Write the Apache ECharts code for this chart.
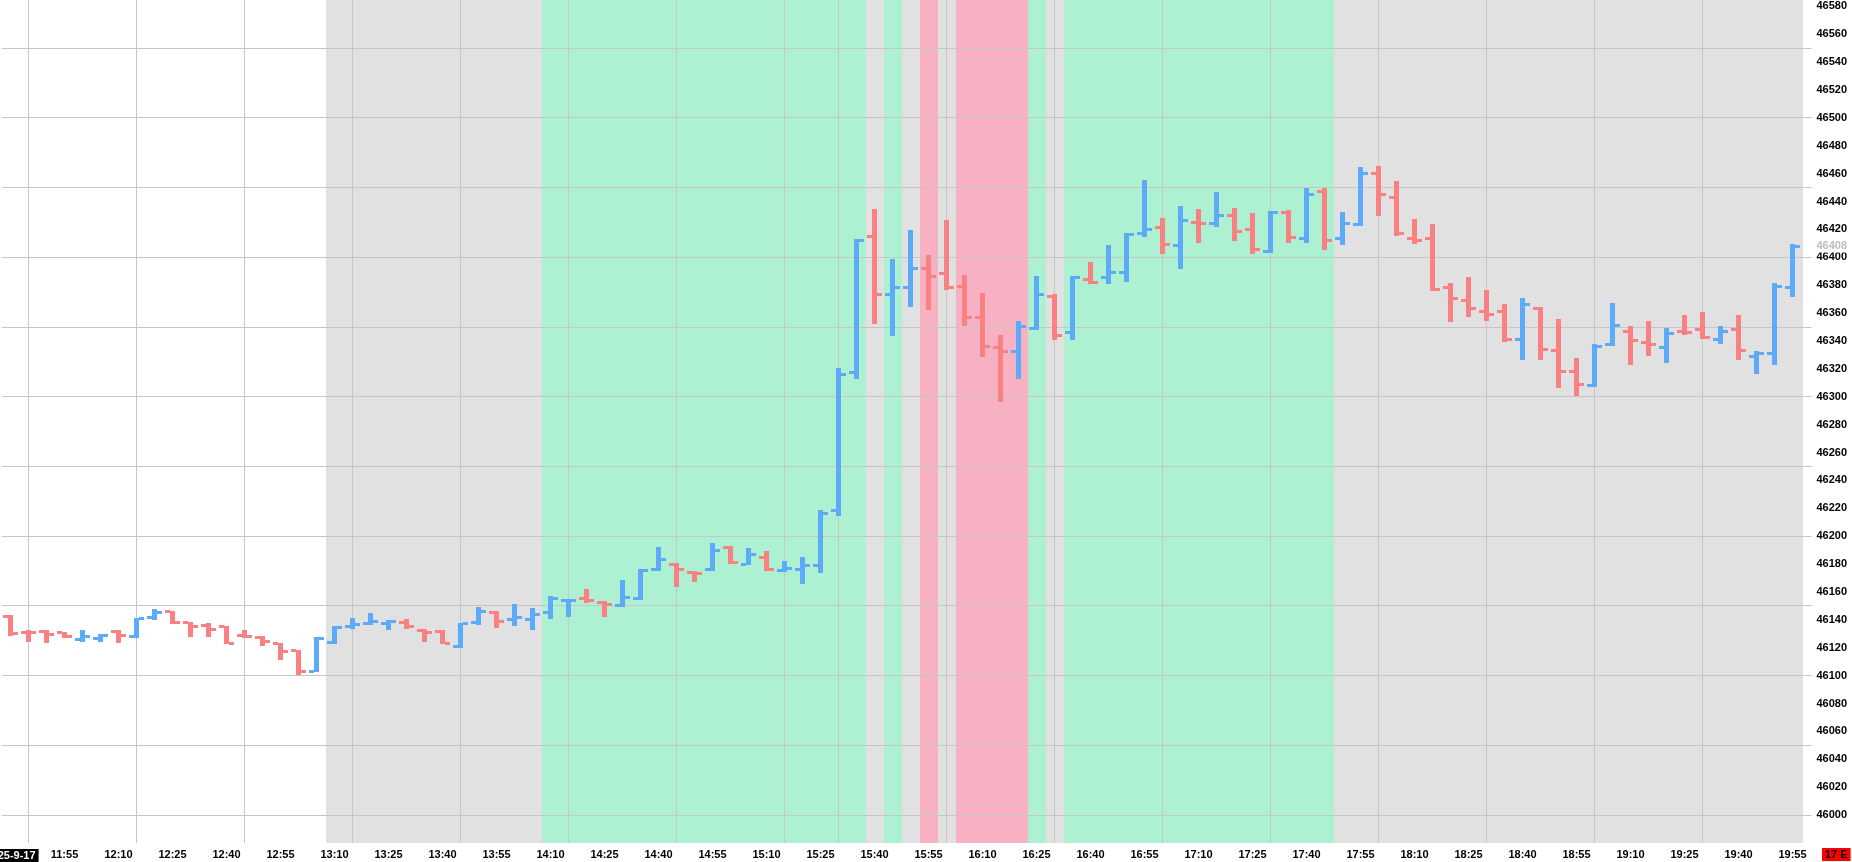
<!DOCTYPE html>
<html>
<head>
<meta charset="utf-8">
<style>
html,body{margin:0;padding:0;background:#ffffff;overflow:hidden;}
#chart{width:1852px;height:862px;}
</style>
<script src="https://cdn.jsdelivr.net/npm/echarts@6/dist/echarts.min.js"></script>
</head>
<body>
<div id="chart"></div>
<script>
// ---------------- data ----------------
const dateLabel = '2025-9-17';
const cornerLabel = '17 E';

const categories = [
  '11:40','11:45','11:50','11:55','12:00','12:05','12:10','12:15','12:20','12:25',
  '12:30','12:35','12:40','12:45','12:50','12:55','13:00','13:05','13:10','13:15',
  '13:20','13:25','13:30','13:35','13:40','13:45','13:50','13:55','14:00','14:05',
  '14:10','14:15','14:20','14:25','14:30','14:35','14:40','14:45','14:50','14:55',
  '15:00','15:05','15:10','15:15','15:20','15:25','15:30','15:35','15:40','15:45',
  '15:50','15:55','16:00','16:05','16:10','16:15','16:20','16:25','16:30','16:35',
  '16:40','16:45','16:50','16:55','17:00','17:05','17:10','17:15','17:20','17:25',
  '17:30','17:35','17:40','17:45','17:50','17:55','18:00','18:05','18:10','18:15',
  '18:20','18:25','18:30','18:35','18:40','18:45','18:50','18:55','19:00','19:05',
  '19:10','19:15','19:20','19:25','19:30','19:35','19:40','19:45','19:50','19:55'
];

const opens = [
  46142.6,46131.2,46131.5,46130.6,46125.8,46127.0,46132.0,46127.8,46141.4,46145.7,
  46137.8,46135.9,46134.9,46129.0,46127.3,46122.7,46117.7,46103.3,46123.7,46135.6,
  46137.1,46137.6,46138.0,46132.5,46132.0,46120.6,46138.0,46145.2,46140.2,46140.2,
  46145.2,46154.0,46155.3,46152.4,46150.2,46155.3,46176.0,46179.7,46174.0,46176.0,
  46191.9,46179.7,46184.7,46175.4,46176.0,46179.2,46218.4,46317.5,46414.6,46373.4,
  46378.5,46392.1,46388.5,46379.2,46356.9,46335.4,46332.5,46349.0,46372.0,46346.1,
  46384.2,46385.6,46389.2,46417.2,46421.5,46408.6,46425.1,46424.4,46430.1,46420.1,
  46404.3,46432.3,46413.6,46447.4,46413.6,46423.7,46460.3,46443.0,46413.6,46413.6,
  46378.5,46369.1,46361.2,46361.2,46341.1,46363.4,46333.2,46318.2,46308.1,46337.5,
  46346.9,46339.0,46335.4,46346.9,46348.3,46341.1,46348.3,46328.9,46331.1,46378.5
];
const highs = [
  46143.8,46133.0,46133.0,46131.6,46133.0,46130.1,46133.0,46141.6,46148.1,46146.7,
  46138.8,46138.0,46135.9,46133.0,46128.5,46123.7,46118.7,46127.8,46135.6,46141.6,
  46145.2,46140.2,46140.9,46133.5,46133.0,46138.0,46149.0,46146.2,46151.2,46148.3,
  46156.9,46155.0,46162.0,46153.3,46168.4,46176.3,46192.1,46180.6,46175.0,46195.0,
  46192.9,46191.4,46189.2,46182.0,46184.9,46218.7,46320.6,46413.2,46434.6,46398.8,
  46419.6,46401.7,46426.8,46387.3,46374.4,46344.2,46354.3,46386.6,46373.7,46386.6,
  46396.6,46408.8,46417.4,46455.5,46428.2,46436.8,46434.7,46446.9,46435.4,46431.8,
  46433.2,46433.8,46449.7,46449.7,46432.5,46464.8,46465.5,46454.7,46427.5,46423.9,
  46381.6,46385.9,46376.5,46366.5,46370.8,46364.3,46355.7,46327.7,46337.8,46367.2,
  46350.7,46354.3,46349.3,46358.6,46360.7,46350.7,46358.6,46332.8,46381.6,46409.5
];
const lows = [
  46128.7,46124.0,46123.2,46126.8,46123.9,46123.9,46123.2,46126.8,46140.2,46136.8,
  46128.0,46128.0,46122.5,46126.8,46121.0,46111.0,46100.2,46102.4,46122.7,46133.3,
  46136.1,46132.5,46133.3,46123.9,46122.5,46119.6,46136.1,46134.2,46135.4,46132.8,
  46140.7,46142.0,46152.2,46142.0,46149.3,46154.3,46175.1,46163.6,46167.2,46175.1,
  46180.1,46179.0,46175.0,46174.4,46165.8,46173.4,46214.4,46312.7,46352.4,46343.7,
  46364.6,46362.2,46376.8,46350.9,46328.7,46296.4,46312.9,46348.0,46340.9,46340.9,
  46381.1,46381.1,46382.5,46414.8,46402.6,46391.9,46410.5,46421.7,46411.9,46402.6,
  46403.3,46410.5,46410.5,46405.4,46409.0,46422.7,46429.9,46415.5,46409.8,46376.0,
  46353.8,46357.4,46354.5,46339.5,46326.5,46326.5,46306.4,46300.7,46307.1,46336.6,
  46322.7,46329.2,46324.1,46344.2,46341.4,46337.8,46326.3,46316.3,46322.7,46371.7
];
const closes = [
  46129.9,46130.8,46129.5,46127.8,46127.8,46129.0,46128.5,46140.7,46145.2,46137.8,
  46134.9,46133.0,46123.4,46127.8,46124.6,46117.0,46103.3,46126.8,46134.7,46136.6,
  46138.5,46138.5,46134.9,46130.6,46123.4,46137.1,46146.2,46139.0,46141.6,46143.8,
  46155.3,46154.0,46153.8,46151.0,46156.0,46175.4,46183.3,46176.0,46173.5,46189.7,
  46181.0,46186.8,46176.0,46176.8,46179.0,46216.3,46316.0,46412.2,46373.4,46378.5,
  46392.1,46386.3,46378.5,46356.9,46336.1,46332.5,46350.4,46373.4,46344.0,46385.6,
  46382.0,46389.2,46416.5,46420.1,46409.3,46426.5,46424.4,46430.1,46418.6,46405.8,
  46432.3,46414.3,46445.2,46412.2,46424.4,46460.3,46445.2,46417.2,46412.2,46377.0,
  46370.6,46363.4,46359.1,46341.1,46366.2,46334.0,46318.2,46308.8,46336.1,46351.2,
  46340.4,46337.5,46345.4,46346.1,46342.6,46346.9,46333.0,46331.1,46379.2,46408.0
];

// background session segments (inclusive start/end times)
const bandSegments = [
  { start: '13:10', end: '14:05', kind: 'neutral' },
  { start: '14:10', end: '15:35', kind: 'up' },
  { start: '15:40', end: '15:40', kind: 'neutral' },
  { start: '15:45', end: '15:45', kind: 'up' },
  { start: '15:50', end: '15:50', kind: 'neutral' },
  { start: '15:55', end: '15:55', kind: 'down' },
  { start: '16:00', end: '16:00', kind: 'neutral' },
  { start: '16:05', end: '16:20', kind: 'down' },
  { start: '16:25', end: '16:25', kind: 'up' },
  { start: '16:30', end: '16:30', kind: 'neutral' },
  { start: '16:35', end: '17:45', kind: 'up' },
  { start: '17:50', end: '19:55', kind: 'neutral' }
];

const vGridTimes = ['11:45','12:15','12:45','13:15','13:45','14:15','14:45','15:15',
  '15:30','16:00','16:30','17:00','17:30','18:00','18:30','19:00','19:30'];
const hGridValues = [46000,46050,46100,46150,46200,46250,46300,46350,46400,46450,46500,46550];

const yMin = 45980, yMax = 46584.5, yLabelStep = 20;

// ---------------- styles ----------------
const UP = '#5caaf8', DOWN = '#f98181';
const bandColors = { neutral: '#e1e1e1', up: '#adf1d2', down: '#f8b0c3' };
const GRID_COLOR = '#c6c6c6';
const FONT = 'Liberation Sans, Arial, Helvetica, sans-serif';

const bandKinds = categories.map(() => null);
bandSegments.forEach(seg => {
  const a = categories.indexOf(seg.start), b = categories.indexOf(seg.end);
  for (let i = a; i <= b; i++) bandKinds[i] = seg.kind;
});

const ohlcData = categories.map((t, i) => [i, opens[i], highs[i], lows[i], closes[i]]);
const lastClose = closes[closes.length - 1];

function snap(v) { return Math.round(v + 0.01); }

const chart = echarts.init(document.getElementById('chart'), null, { renderer: 'canvas' });

chart.setOption({
  animation: false,
  backgroundColor: '#ffffff',
  grid: { left: 1.5, right: 50.5, top: 0, bottom: 19, containLabel: false, outerBoundsMode: 'none' },
  xAxis: {
    type: 'category',
    data: categories,
    boundaryGap: true,
    axisLine: { show: false },
    axisTick: { show: false },
    splitLine: { show: false },
    axisLabel: {
      interval: 2,
      margin: 6,
      color: '#000',
      fontFamily: FONT,
      fontWeight: 'bold',
      fontSize: 11,
      formatter: function (v, idx) { return idx === 0 ? '{d|' + dateLabel + '}' : v; },
      rich: {
        d: { color: '#fff', backgroundColor: '#000', fontFamily: FONT, fontWeight: 'bold',
             fontSize: 11, padding: [1, 3, 1, 3] }
      }
    }
  },
  yAxis: {
    type: 'value',
    position: 'right',
    min: yMin,
    max: yMax,
    interval: yLabelStep,
    axisLine: { show: false },
    axisTick: { show: false },
    splitLine: { show: false },
    axisLabel: {
      margin: 15,
      color: '#000',
      fontFamily: FONT,
      fontWeight: 'bold',
      fontSize: 11,
      showMinLabel: false,
      showMaxLabel: false,
      formatter: function (v) { return (v % yLabelStep === 0 && v > yMin) ? String(v) : ''; }
    }
  },
  graphic: [{
    type: 'text',
    left: 1822,
    top: 848,
    z: 100,
    style: {
      text: cornerLabel,
      font: 'bold 11px ' + FONT,
      fill: '#000',
      backgroundColor: '#ff0000',
      padding: [1, 3, 1, 3]
    }
  }],
  series: [
    {
      name: 'bands', type: 'custom', silent: true, z: 1, clip: false,
      data: categories.map((t, i) => [i, 0]),
      renderItem: function (params, api) {
        const i = params.dataIndex;
        const kind = bandKinds[i];
        if (!kind) return null;
        const cs = params.coordSys;
        const cx = api.coord([i, yMin])[0];
        const w = api.size([1, 0])[0];
        const x0 = snap(cx - w / 2), x1 = snap(cx + w / 2);
        return { type: 'rect', shape: { x: x0, y: cs.y, width: x1 - x0 + 1, height: cs.height },
                 style: { fill: bandColors[kind] } };
      }
    },
    {
      name: 'vgrid', type: 'custom', silent: true, z: 2, clip: false,
      data: vGridTimes.map(t => [categories.indexOf(t), 0]),
      renderItem: function (params, api) {
        const cs = params.coordSys;
        const cx = api.coord([api.value(0), yMin])[0];
        return { type: 'rect', shape: { x: Math.round(cx - 0.5), y: cs.y, width: 1, height: cs.height },
                 style: { fill: GRID_COLOR } };
      }
    },
    {
      name: 'hgrid', type: 'custom', silent: true, z: 2, clip: false,
      data: hGridValues.map(v => [0, v]),
      renderItem: function (params, api) {
        const cs = params.coordSys;
        const y = api.coord([0, api.value(1)])[1];
        return { type: 'rect', shape: { x: cs.x, y: Math.round(y - 0.5), width: cs.width + 10, height: 1 },
                 style: { fill: GRID_COLOR } };
      }
    },
    {
      name: 'ohlc', type: 'custom', z: 3, clip: false,
      data: ohlcData,
      encode: { x: 0, y: [1, 2, 3, 4] },
      renderItem: function (params, api) {
        const i = api.value(0);
        const o = api.value(1), h = api.value(2), l = api.value(3), c = api.value(4);
        const pO = api.coord([i, o]), pH = api.coord([i, h]), pL = api.coord([i, l]), pC = api.coord([i, c]);
        const color = c >= o ? UP : DOWN;
        const xv = snap(pO[0] - 2.5);
        const yTop = Math.round(pH[1]), yBot = Math.round(pL[1]);
        return {
          type: 'group',
          children: [
            { type: 'rect', shape: { x: xv, y: yTop, width: 5, height: Math.max(3, yBot - yTop) }, style: { fill: color } },
            { type: 'rect', shape: { x: xv - 5, y: Math.round(pO[1] - 1.5), width: 5, height: 3 }, style: { fill: color } },
            { type: 'rect', shape: { x: xv + 5, y: Math.round(pC[1] - 1.5), width: 5, height: 3 }, style: { fill: color } }
          ]
        };
      }
    },
    {
      name: 'last', type: 'custom', silent: true, z: 10, clip: false,
      data: [[categories.length - 1, lastClose]],
      renderItem: function (params, api) {
        const cs = params.coordSys;
        const y = api.coord([api.value(0), api.value(1)])[1];
        return {
          type: 'text',
          style: {
            text: String(Math.round(api.value(1))),
            x: cs.x + cs.width + 15,
            y: Math.round(y),
            font: 'bold 11px ' + FONT,
            fill: '#bdbdbd',
            align: 'left',
            verticalAlign: 'middle',
            backgroundColor: '#ffffff',
            padding: [1, 2, 1, 0]
          }
        };
      }
    }
  ]
});
</script>
</body>
</html>
